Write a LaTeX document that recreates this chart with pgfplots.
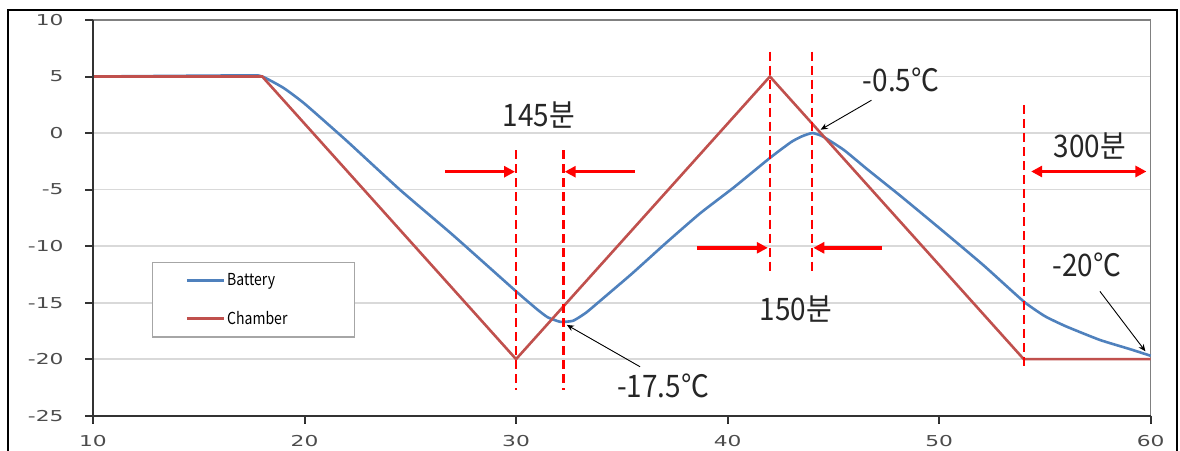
\documentclass[border=0pt]{standalone}
\usepackage{pgfplots}
\pgfplotsset{compat=1.18}
\usepackage{fontspec}
\usetikzlibrary{arrows.meta}
\newfontfamily\annfont[FakeStretch=0.9]{Noto Sans CJK KR}
\newfontfamily\legfont[FakeStretch=0.85]{Noto Sans CJK KR}
\newfontfamily\tickfont[FakeStretch=1.45]{DejaVu Sans}
\definecolor{batt}{HTML}{4F81BD}
\definecolor{cham}{HTML}{C0504D}
\definecolor{gridc}{HTML}{D9D9D9}
\begin{document}
\begin{tikzpicture}[x=1pt,y=1pt]
\useasboundingbox (0,0) rectangle (1180,450);
\fill[white] (0,0) rectangle (1180,450);
\begin{axis}[
  at={(93pt,34.3pt)}, anchor=south west,
  scale only axis, width=1057.7pt, height=395.7pt,
  xmin=10, xmax=60, ymin=-25, ymax=10,
  xtick={10,20,...,60}, ytick={-25,-20,...,10},
  axis line style={draw=none},
  xtick pos=bottom, ytick pos=left,
  tick align=outside, major tick length=8pt,
  major tick style={draw=black!85, line width=2pt},
  ymajorgrids, grid style={gridc, line width=1.8pt},
  /pgf/number format/assume math mode=true,
  tick label style={font=\tickfont\fontsize{15}{18}\selectfont, text=black!70},
  yticklabel style={xshift=-18pt},
  xticklabel style={yshift=-8pt},
  clip=false,
  legend style={at={(rel axis cs:0.0558,0.388)}, anchor=north west,
    draw=black!35, line width=1.2pt, fill=white,
    font=\legfont\fontsize{16.5}{18}\selectfont,
    inner xsep=33pt, inner ysep=9pt, row sep=20pt,
    /tikz/every even column/.append style={text width=92pt, xshift=8pt}},
  legend cell align=left,
  legend image code/.code={\draw[#1, line width=2.6pt] (0pt,0pt) -- (37pt,0pt);},
]
\draw[black!50, line width=1.5pt] (rel axis cs:0,1) -- (rel axis cs:1,1) -- (rel axis cs:1,0);
\addplot[batt, line width=2.6pt, smooth, tension=0.3] coordinates {
(10,5) (17.3,5.1) (18,5) (19,4.0) (20,2.6) (22,-0.7) (24.5,-5.0) (27,-9.0) (30,-14.0)
(31,-15.6) (31.5,-16.3) (32.1,-16.7) (32.7,-16.6) (33.3,-15.9) (34,-14.8) (35.5,-12.4)
(37.1,-9.7) (38.7,-7.1) (40.3,-4.8) (42,-2.2) (43,-0.8) (43.5,-0.3) (44,0) (44.5,-0.3)
(45.5,-1.5) (46.6,-3.2) (48.2,-5.6) (50.2,-8.7) (52.1,-11.7) (54,-14.9) (55,-16.2)
(56,-17.1) (57.6,-18.3) (59,-19.1) (60,-19.7)};
\addlegendentry{Battery}
\addplot[cham, line width=2.6pt] coordinates {
(10,5) (18,5) (30,-20) (42,5) (54,-20) (60,-20)};
\addlegendentry{Chamber}
\draw[black!80, line width=2pt] (rel axis cs:0,1) -- (rel axis cs:0,0) -- (rel axis cs:1,0);
\pgfplotsinvokeforeach{10,20,30,40,50,60}{\draw[black!80, line width=2pt] (axis cs:#1,-25) -- ++(0pt,-7pt);}
\pgfplotsinvokeforeach{-25,-20,-15,-10,-5,0,5,10}{\draw[black!80, line width=2pt] (axis cs:10,#1) -- ++(-8pt,0pt);}
% dashed red markers
\begin{scope}[red, line width=2.5pt, dash pattern=on 9pt off 5pt]
\draw (axis cs:30,-1.5) -- (axis cs:30,-22.7);
\draw (axis cs:32.25,-1.5) -- (axis cs:32.25,-22.7);
\draw (axis cs:42,7.2) -- (axis cs:42,-12.6);
\draw (axis cs:44,7.2) -- (axis cs:44,-12.6);
\draw (axis cs:54,2.5) -- (axis cs:54,-20.6);
\end{scope}
% red arrows
\begin{scope}[red, line width=3.5pt, -{Triangle[length=11pt,width=11pt]}]
\draw (axis cs:26.65,-3.42) -- (axis cs:29.95,-3.42);
\draw (axis cs:35.6,-3.42) -- (axis cs:32.3,-3.42);
\draw (axis cs:38.55,-10.15) -- (axis cs:41.9,-10.15);
\draw (axis cs:47.3,-10.15) -- (axis cs:44.05,-10.15);
\end{scope}
\draw[red, line width=3.5pt, {Triangle[length=11pt,width=11pt]}-{Triangle[length=11pt,width=11pt]}] (axis cs:54.35,-3.4) -- (axis cs:59.8,-3.4);
% black pointers
\begin{scope}[black, line width=0.9pt, -{Stealth[length=7pt,width=6pt]}]
\draw (axis cs:46.8,2.9) -- (axis cs:44.4,0.3);
\draw (axis cs:35.86,-20.67) -- (axis cs:32.4,-16.97);
\draw (axis cs:57.6,-14.0) -- (axis cs:59.75,-19.3);
\end{scope}
% texts
\begin{scope}[font=\annfont\fontsize{31}{36}\selectfont, text=black!85]
\node at (axis cs:31.08,1.6) {145분};
\node at (axis cs:43.23,-15.6) {150분};
\node at (axis cs:57.13,-1.15) {300분};
\node at (axis cs:48.2,4.7) {-0.5℃};
\node at (axis cs:36.95,-22.4) {-17.5℃};
\node at (axis cs:56.99,-11.7) {-20℃};
\end{scope}
\end{axis}
\draw[black, line width=1.5pt] (8,-5) rectangle (1177,440);
\end{tikzpicture}
\end{document}
